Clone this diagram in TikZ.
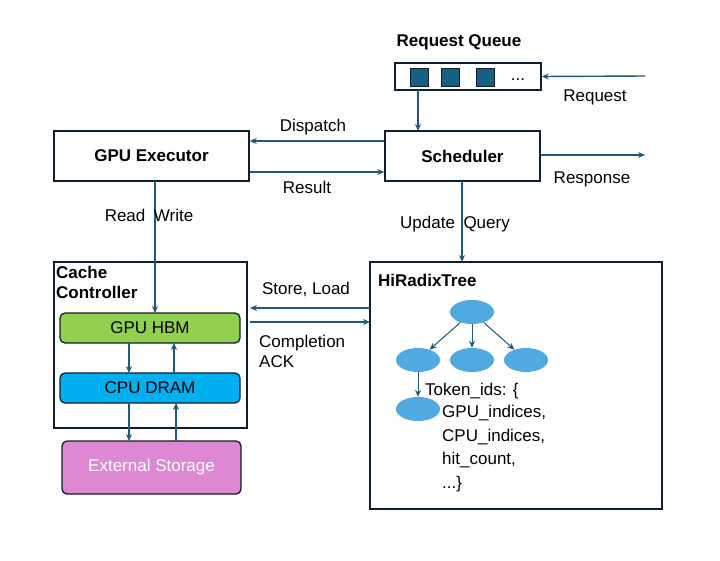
\documentclass[tikz,border=0pt]{standalone}
\usepackage{fontspec}
\setmainfont{Liberation Sans}
\usetikzlibrary{arrows.meta,shapes.geometric}
\definecolor{ln}{RGB}{30,90,125}
\definecolor{bd}{RGB}{14,30,45}
\definecolor{sq}{RGB}{24,96,130}
\definecolor{hbm}{RGB}{146,208,80}
\definecolor{dram}{RGB}{0,176,240}
\definecolor{ext}{RGB}{222,136,212}
\definecolor{nd}{RGB}{78,170,225}
\begin{document}
\begin{tikzpicture}[x=1pt,y=-1pt,
 box/.style={draw=bd,line width=1.5pt,inner sep=0},
 mem/.style={draw=bd,line width=1.3pt,rounded corners=5pt,inner sep=0},
 ar/.style={draw=ln,line width=1.4pt,-{Stealth[length=7pt,width=6pt]}},
 lab/.style={font=\fontsize{17}{20}\selectfont,text=black},
 ttl/.style={font=\fontsize{17}{20}\selectfont\bfseries},
 tn/.style={ellipse,fill=nd,minimum width=44pt,minimum height=24pt,inner sep=0}]
\useasboundingbox (0,0) rectangle (720,560);
% queue
\node[ttl] (rq) at (459,42) {Request Queue};
\node[box,minimum width=146pt,minimum height=27pt] (q) at (468,76.5) {};
\foreach \x/\n in {419/s1,450/s2,485/s3}
  \node[draw=bd,fill=sq,line width=0.8pt,minimum size=18pt,inner sep=0] (\n) at (\x,77) {};
\node[lab,anchor=base] (dots) at (518,80) {...};
\coordinate (rin) at (645,76);
\draw[ar] (rin) -- (q.east);
\node[lab] (rl) at (595,97) {Request};
% exec & sched
\node[box,minimum width=195pt,minimum height=50pt,ttl] (ex) at (151.5,156) {GPU Executor};
\node[box,minimum width=155pt,minimum height=50pt,ttl] (sc) at (462.5,156) {Scheduler};
\draw[ar] (418,90) -- (418,131);
\draw[ar] (sc.west|-0,141) -- (ex.east|-0,141);
\node[lab] (dl) at (313,127) {Dispatch};
\draw[ar] (ex.east|-0,172) -- (sc.west|-0,172);
\node[lab] (rsl) at (307,187) {Result};
\coordinate (rout) at (645,155);
\draw[ar] (sc.east|-rout) -- (rout);
\node[lab] (rspl) at (592,179) {Response};
% cache controller
\node[box,minimum width=193pt,minimum height=166pt] (cc) at (150.5,345) {};
\node[ttl,anchor=north west,align=left,inner sep=0] (cct) at (56,266) {Cache\\Controller};
\node[mem,fill=hbm,minimum width=180pt,minimum height=30pt,lab] (hbm) at (150,328) {GPU HBM};
\node[mem,fill=dram,minimum width=180pt,minimum height=30pt,lab] (dr) at (150,388) {CPU DRAM};
\node[mem,fill=ext,minimum width=179pt,minimum height=53pt,lab,text=white] (es) at (151.5,467.5) {External Storage};
\draw[ar] (155,181) -- (155,313);
\node[lab] (rw) at (149,215) {Read\enspace Write};
\draw[ar] (129,343) -- (129,373);
\draw[ar] (174,373) -- (174,343);
\draw[ar] (129,403) -- (129,441);
\draw[ar] (176,441) -- (176,403);
% tree
\node[box,minimum width=292pt,minimum height=247pt] (ht) at (516,385.5) {};
\node[ttl,anchor=west,inner sep=0] (htt) at (378,280) {HiRadixTree};
\draw[ar] (462,181) -- (462,262);
\node[lab] (uq) at (455,224) {Update\enspace Query};
\draw[ar] (370,308) -- (250,308);
\node[lab] (sl) at (306,289) {Store, Load};
\draw[ar] (250,322) -- (370,322);
\node[lab,align=left,anchor=north west,inner sep=0] (ca) at (259,335) {Completion\\ACK};
\node[tn] (r) at (472,312) {};
\node[tn] (c1) at (418,360) {};
\node[tn] (c2) at (472,360) {};
\node[tn] (c3) at (526,360) {};
\node[tn] (g) at (418,409) {};
\foreach \a/\b in {r/c1,r/c2,r/c3,c1/g} \draw[ar,line width=1pt] (\a) -- (\b);
\node[lab,anchor=west,inner sep=0] (tk) at (425,391) {Token\_ids: \{};
\node[lab,anchor=north west,align=left,inner sep=0,font=\fontsize{17}{23.5}\selectfont] (tl) at (442,405) {GPU\_indices,\\CPU\_indices,\\hit\_count,\\...\}};
\end{tikzpicture}
\end{document}
